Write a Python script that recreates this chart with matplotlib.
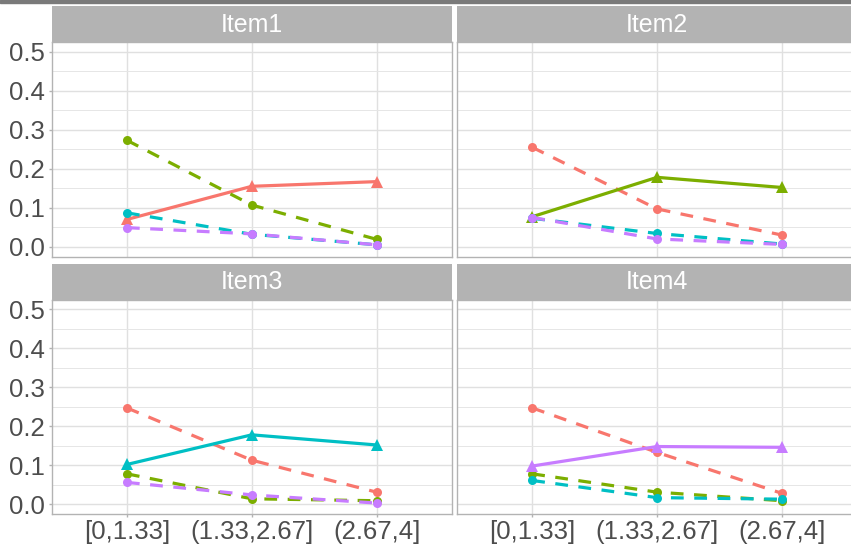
import matplotlib.pyplot as plt
import matplotlib.patches as mpatches
import numpy as np

plt.rcParams['font.family'] = ['Liberation Sans', 'DejaVu Sans']

items = ['Item1', 'Item2', 'Item3', 'Item4']
bins = ['[0,1.33]', '(1.33,2.67]', '(2.67,4]']
groups = ['g1', 'g2', 'g3', 'g4']
colors = ['#F8766D', '#7CAE00', '#00BFC4', '#C77CFF']

# proportion per bin, one list per group, for each item panel
item1 = [[0.070, 0.155, 0.167], [0.273, 0.107, 0.019], [0.087, 0.032, 0.005], [0.049, 0.033, 0.005]]
item2 = [[0.255, 0.097, 0.030], [0.077, 0.178, 0.152], [0.073, 0.034, 0.007], [0.075, 0.020, 0.006]]
item3 = [[0.247, 0.113, 0.031], [0.078, 0.014, 0.009], [0.102, 0.178, 0.152], [0.056, 0.024, 0.003]]
item4 = [[0.247, 0.133, 0.028], [0.078, 0.031, 0.009], [0.061, 0.017, 0.013], [0.098, 0.148, 0.146]]
panels = [item1, item2, item3, item4]

W, H = 851, 545
fig = plt.figure(figsize=(W / 100, H / 100), dpi=100)

# dark rule along the top edge
fig.add_artist(mpatches.Rectangle((0, 1 - 3 / H), 1, 3 / H, transform=fig.transFigure,
                                  color='#7a7a7a', zorder=0))

lefts = [52, 457.3]
tops = [42, 299.5]
pw, ph = 399.5, 214.5
strip_h = 36
grey70 = '#B3B3B3'
txt = '#4D4D4D'
x = np.arange(1, len(bins) + 1)

for i, item in enumerate(items):
  r, c = divmod(i, 2)
  left, top = lefts[c], tops[r]
  ax = fig.add_axes([left / W, 1 - (top + ph) / H, pw / W, ph / H])
  sax = fig.add_axes([left / W, 1 - top / H, pw / W, strip_h / H])
  sax.set_facecolor(grey70)
  sax.set_xticks([])
  sax.set_yticks([])
  for s in sax.spines.values():
    s.set_visible(False)
  sax.text(0.5, 0.48, item, color='white', fontsize=18, ha='center', va='center',
           transform=sax.transAxes)

  for g in range(len(groups)):
    own = g == i
    ax.plot(x, panels[i][g], color=colors[g], lw=2.3,
            ls='-' if own else (0, (4, 3.3)),
            marker='^' if own else 'o', ms=9 if own else 6.5,
            markeredgewidth=0, zorder=3 + g)

  ax.set_xlim(0.4, 3.6)
  ax.set_ylim(-0.025, 0.525)
  ax.set_xticks(x)
  ax.set_yticks(np.arange(0, 0.51, 0.1))
  ax.set_yticks(np.arange(0.05, 0.51, 0.1), minor=True)
  ax.grid(which='major', color='#E0E0E0', lw=1.0, zorder=0)
  ax.grid(which='minor', axis='y', color='#E6E6E6', lw=0.7, zorder=0)
  ax.set_axisbelow(True)
  for s in ax.spines.values():
    s.set_color(grey70)
    s.set_linewidth(1.0)
  ax.tick_params(which='both', color=grey70, length=2.5, width=1.0,
                 labelsize=18.5, labelcolor=txt, pad=2.5)
  ax.tick_params(axis='x', pad=1.5)
  ax.tick_params(which='minor', length=0)
  if c == 0:
    ax.set_yticklabels(['0.0', '0.1', '0.2', '0.3', '0.4', '0.5'])
  else:
    ax.tick_params(axis='y', length=0, labelleft=False)
  if r == 1:
    ax.set_xticklabels(bins)
  else:
    ax.tick_params(axis='x', length=0, labelbottom=False)

fig.savefig('out.png', dpi=100)
